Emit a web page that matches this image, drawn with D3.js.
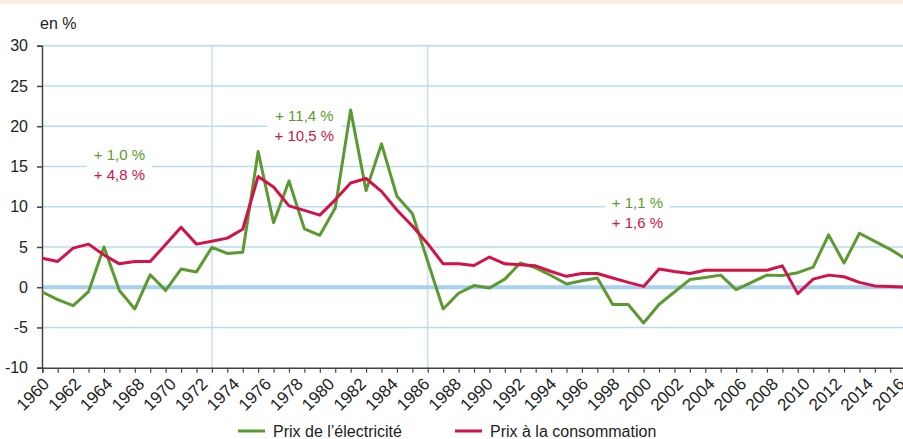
<!DOCTYPE html>
<html>
<head>
<meta charset="utf-8">
<script src="https://cdn.jsdelivr.net/npm/d3@7"></script>
<style>
body { margin: 0; background: #fff; }
text { font-family: "Liberation Sans", Arial, sans-serif; fill: #222; }
</style>
</head>
<body>
<div id="chart"></div>
<script>
// données
var years = d3.range(1960, 2017);
var elec = [-0.6, -1.55, -2.3, -0.55, 5.0, -0.4, -2.7, 1.55, -0.4, 2.25,
    1.9, 4.95, 4.2, 4.35, 16.85, 8.0, 13.2, 7.25, 6.45, 9.85,
    22.0, 12.0, 17.8, 11.3, 9.15, 3.2, -2.7, -0.75, 0.2, -0.1,
    1.0, 3.0, 2.4, 1.45, 0.4, 0.8, 1.15, -2.15, -2.15, -4.45,
    -2.15, -0.6, 0.95, 1.2, 1.5, -0.3, 0.6, 1.5, 1.45, 1.8,
    2.5, 6.5, 3.0, 6.7, 5.7, 4.7, 3.5];
var conso = [3.6, 3.2, 4.85, 5.35, 4.0, 2.9, 3.2, 3.2, 5.3, 7.45,
    5.35, 5.7, 6.1, 7.2, 13.75, 12.45, 10.1, 9.55, 8.95, 10.85,
    12.95, 13.5, 11.9, 9.6, 7.6, 5.4, 2.9, 2.9, 2.7, 3.75,
    2.9, 2.8, 2.65, 1.95, 1.35, 1.7, 1.7, 1.15, 0.6, 0.1,
    2.25, 1.95, 1.7, 2.1, 2.1, 2.1, 2.1, 2.1, 2.65, -0.8,
    1.0, 1.5, 1.3, 0.6, 0.15, 0.1, 0.0];
var tick_labels = ["1960", "1962", "1964", "1968", "1970", "1972", "1974", "1976", "1978",
    "1980", "1982", "1984", "1986", "1988", "1990", "1992", "1994", "1996", "1998",
    "2000", "2002", "2004", "2006", "2008", "2010", "2012", "2014", "2016"];
var y_ticks = [-10, -5, 0, 5, 10, 15, 20, 25, 30];
var breaks = [1971, 1985];
var elec_rates = ["+ 1,0 %", "+ 11,4 %", "+ 1,1 %"];
var conso_rates = ["+ 4,8 %", "+ 10,5 %", "+ 1,6 %"];
var series_names = ["Prix de l\u2019\u00e9lectricit\u00e9", "Prix \u00e0 la consommation"];

var green = "#5b9a30", red = "#d3124a", grid = "#b6dbf3";
var width = 903, height = 439;

var svg = d3.select("#chart").append("svg")
    .attr("width", width)
    .attr("height", height);

// bandeau du haut
svg.append("rect").attr("x", 0).attr("y", 0).attr("width", width).attr("height", 4).attr("fill", "#fdeee3");

var x = d3.scaleLinear().domain([1960, 2016]).range([42.3, 905.7]);
var y = d3.scaleLinear().domain([-10, 30]).range([367.7, 45.7]);
var x_lab = d3.scalePoint().domain(tick_labels).range([42.3, 898]);

// grille
svg.append("g").selectAll("line")
    .data(y_ticks.filter(function (d) { return d > -10 && d != 0; }))
    .enter().append("line")
    .attr("x1", 42).attr("x2", width)
    .attr("y1", function (d) { return y(d); })
    .attr("y2", function (d) { return y(d); })
    .attr("stroke", grid).attr("stroke-width", 1.5);

svg.append("g").selectAll("line")
    .data(breaks)
    .enter().append("line")
    .attr("x1", function (d) { return x(d); })
    .attr("x2", function (d) { return x(d); })
    .attr("y1", y(30)).attr("y2", y(-10))
    .attr("stroke", grid).attr("stroke-width", 1.2);

svg.append("line")
    .attr("x1", 42).attr("x2", width)
    .attr("y1", y(0)).attr("y2", y(0))
    .attr("stroke", "#a7d1ef").attr("stroke-width", 4);

// cadres blancs + taux moyens
var rate_pos = [{ x: 1965, y: 160 }, { x: 1977, y: 121 }, { x: 1998.6, y: 208 }];
var rate_g = svg.append("g").selectAll("g")
    .data(elec_rates)
    .enter().append("g");

rate_g.each(function (d, i) {
    var g = d3.select(this);
    var bg = g.append("rect").attr("fill", "#fff");
    var t1 = g.append("text")
        .attr("x", x(rate_pos[i].x)).attr("y", rate_pos[i].y)
        .attr("text-anchor", "middle")
        .style("font-size", "15px")
        .style("fill", green)
        .text(d);
    var t2 = g.append("text")
        .attr("x", x(rate_pos[i].x)).attr("y", rate_pos[i].y + 20)
        .attr("text-anchor", "middle")
        .style("font-size", "15px")
        .style("fill", red)
        .text(conso_rates[i]);
    var b1 = t1.node().getBBox(), b2 = t2.node().getBBox();
    var x0 = Math.min(b1.x, b2.x) - 7, x1 = Math.max(b1.x + b1.width, b2.x + b2.width) + 7;
    bg.attr("x", x0).attr("y", b1.y - 2).attr("width", x1 - x0).attr("height", b2.y + b2.height - b1.y + 4);
});

// axes
var y_axis = svg.append("g")
    .attr("transform", "translate(42,0)")
    .call(d3.axisLeft(y).tickValues(y_ticks).tickSize(5).tickPadding(9)
        .tickFormat(function (d) { return String(d); }));
y_axis.select(".domain").attr("stroke", "#444").attr("stroke-width", 1.5);
y_axis.selectAll(".tick line").attr("stroke", "#444").attr("stroke-width", 1.5);
y_axis.selectAll("text").style("font-size", "16px").style("fill", "#222")
    .style("font-family", "\"Liberation Sans\", Arial, sans-serif");

var x_axis = svg.append("g")
    .attr("transform", "translate(0," + y(-10) + ")")
    .call(d3.axisBottom(x).tickValues(years).tickSize(5).tickFormat(""));
x_axis.select(".domain").attr("stroke", "#444").attr("stroke-width", 1.5);
x_axis.selectAll(".tick line").attr("stroke", "#444").attr("stroke-width", 1.2);

svg.append("g").selectAll("text")
    .data(tick_labels)
    .enter().append("text")
    .attr("transform", function (d) { return "translate(" + (x_lab(d) + 8) + "," + 385 + ") rotate(-45)"; })
    .attr("text-anchor", "end")
    .style("font-size", "17px")
    .text(function (d) { return d; });

// unité
svg.append("text").attr("x", 40).attr("y", 29).style("font-size", "16px").text("en %");

// courbes
var line = d3.line()
    .x(function (d, i) { return x(years[i]); })
    .y(function (d) { return y(d); });

svg.append("path").datum(elec)
    .attr("d", line).attr("fill", "none")
    .attr("stroke", green).attr("stroke-width", 3).attr("stroke-linejoin", "round");
svg.append("path").datum(conso)
    .attr("d", line).attr("fill", "none")
    .attr("stroke", red).attr("stroke-width", 3).attr("stroke-linejoin", "round");

// légende
var legend_x = [238, 455];
var legend_col = [green, red];
var legend = svg.append("g").selectAll("g")
    .data(series_names)
    .enter().append("g")
    .attr("transform", function (d, i) { return "translate(" + legend_x[i] + ",431)"; });
legend.append("line")
    .attr("x1", 0).attr("x2", 27).attr("y1", 0).attr("y2", 0)
    .attr("stroke", function (d, i) { return legend_col[i]; })
    .attr("stroke-width", 3);
legend.append("text")
    .attr("x", 35).attr("y", 6)
    .style("font-size", "16px")
    .text(function (d) { return d; });
</script>
</body>
</html>
